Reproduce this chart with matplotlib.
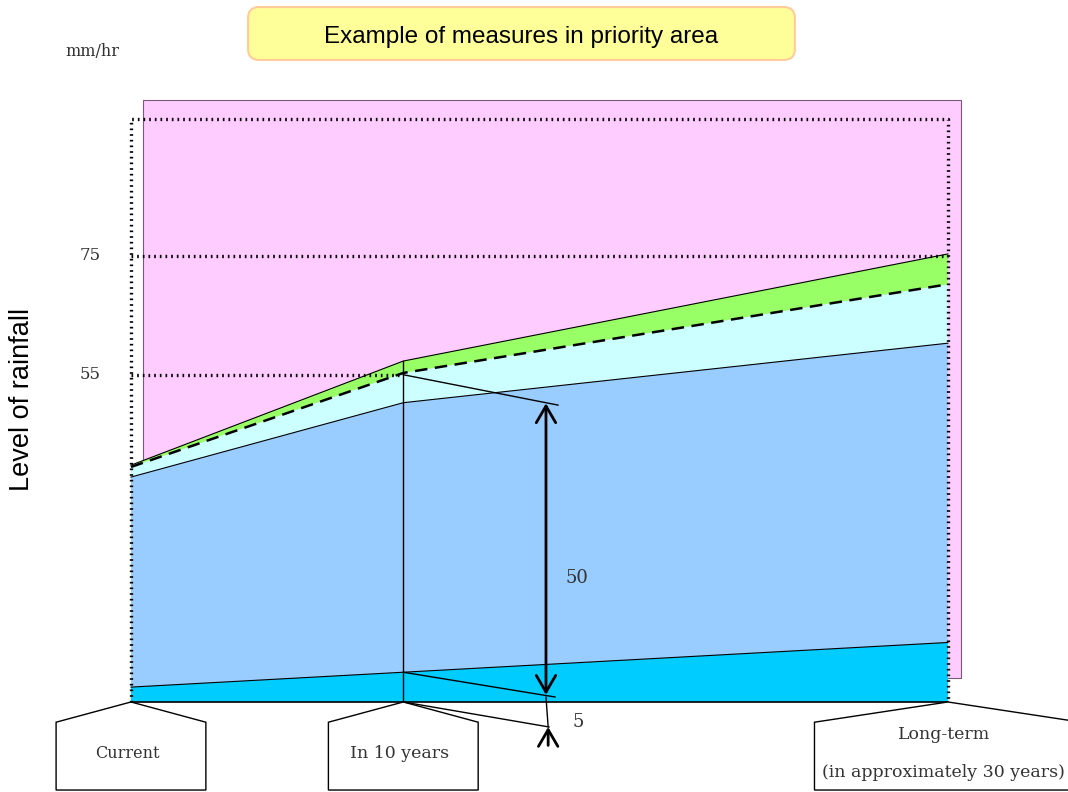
import numpy as np
import matplotlib.pyplot as plt
from matplotlib.patches import Rectangle, Polygon, FancyBboxPatch

# stages (years from now) and layer tops in mm/hr
years = [0, 10, 30]
stage_labels = ['Current', 'In 10 years', 'Long-term\n\n(in approximately 30 years)']
cyan_top = [2.5, 5, 10]
blue_top = [37.8, 50.3, 60.3]
dash_top = [39.5, 55.3, 70.2]
green_top = [39.8, 57.3, 75.3]
ref_levels = [55, 75]
span_big = 50
span_small = 5

serif = 'DejaVu Serif'
sans = 'Liberation Sans'

fig = plt.figure(figsize=(10.68, 7.92), dpi=100)
ax = fig.add_axes([0, 0, 1, 1])
ax.set_xlim(-4.81, 34.41)
ax.set_ylim(-15.13, 117.98)
ax.axis('off')

# pink background area
ax.add_patch(Rectangle((0.44, 4.0), 30.04, 97.2, facecolor='#FFCCFF',
                       edgecolor='#7a5a7a', lw=0.8, zorder=1))

# stacked layers
x = np.array(years, dtype=float)
layers = [(np.zeros(3), cyan_top, '#00CCFF'),
          (cyan_top, blue_top, '#99CCFF'),
          (blue_top, dash_top, '#CCFFFF'),
          (dash_top, green_top, '#99FF66')]
for lo, hi, col in layers:
    ax.fill_between(x, lo, hi, facecolor=col, edgecolor='none', zorder=2)
ax.plot(x, [0, 0, 0], color='black', lw=1.2, zorder=3)
ax.plot(x, cyan_top, color='black', lw=0.8, zorder=3)
ax.plot(x, blue_top, color='black', lw=0.8, zorder=3)
ax.plot(x, green_top, color='black', lw=0.8, zorder=3)
ax.plot(x, dash_top, color='black', lw=1.8, ls=(0, (5, 3)), zorder=3)
ax.plot([years[1], years[1]], [0, green_top[1]], color='black', lw=1, zorder=3)

# dotted frame and reference levels
dot = dict(color='black', lw=2.4, ls=(0, (0.5, 1.2)), zorder=4)
ax.plot([0, 0, 30, 30], [0, 98, 98, 0], **dot)
ax.plot([0, years[1]], [ref_levels[0]] * 2, **dot)
ax.plot([0, 30], [ref_levels[1]] * 2, **dot)
for lv in ref_levels:
    ax.text(-1.5, lv, str(lv), fontsize=12, family=serif, color='#333333',
            ha='center', va='center')
ax.text(-1.4, 109.3, 'mm/hr', fontsize=11.5, family=serif, color='#333333',
        ha='center', va='center')
ax.text(-4.0, 50.9, 'Level of rainfall', fontsize=19.5, family=sans,
        rotation=90, ha='center', va='center')

# leader lines to the span arrows
ax_x = 15.24
ax.plot([years[1], 15.68], [dash_top[1] - 0.3, 49.9], color='black', lw=1, zorder=5)
ax.plot([years[1], 15.57], [cyan_top[1], 0.84], color='black', lw=1, zorder=5)
ax.plot([years[1], 15.35], [0, -4.2], color='black', lw=1, zorder=5)
ax.plot([ax_x, ax_x + 0.08], [0.84, -4.2], color='black', lw=1, zorder=5)
ax.annotate('', xy=(ax_x, 1.2), xytext=(ax_x, 50.2),
            arrowprops=dict(arrowstyle='<->, head_length=0.6, head_width=0.35',
                            lw=2, mutation_scale=20, shrinkA=0, shrinkB=0),
            zorder=6)
ax.annotate('', xy=(ax_x + 0.08, -4.2), xytext=(ax_x + 0.08, -7.3),
            arrowprops=dict(arrowstyle='->, head_length=0.6, head_width=0.35',
                            lw=2, mutation_scale=20, shrinkA=0, shrinkB=0),
            zorder=6)
ax.text(16.38, 20.8, str(span_big), fontsize=13, family=serif, color='#333333',
        ha='center', va='center')
ax.text(16.42, -3.4, str(span_small), fontsize=13, family=serif, color='#333333',
        ha='center', va='center')

# stage label boxes (house shapes)
half_w = [2.75, 2.75, 4.9]
label_sizes = [11.5, 12.5, 12.5]
for yr, lab, hw, fs in zip(years, stage_labels, half_w, label_sizes):
    pts = [(yr, 0), (yr + hw, -3.4), (yr + hw, -14.8),
           (yr - hw, -14.8), (yr - hw, -3.4)]
    ax.add_patch(Polygon(pts, closed=True, facecolor='white',
                         edgecolor='black', lw=1, zorder=3, clip_on=False))
    ax.text(yr - 0.15, -8.6, lab, fontsize=fs, family=serif, color='#333333',
            ha='center', va='center', linespacing=1.15)

# title box
ax.add_patch(FancyBboxPatch((4.30, 107.9), 20.08, 8.9,
                            boxstyle='round,pad=0,rounding_size=0.4',
                            mutation_aspect=4.6,
                            facecolor='#FFFF99', edgecolor='#FFCC99', lw=1.5,
                            zorder=3))
ax.text(14.34, 111.8, 'Example of measures in priority area', fontsize=17.5,
        family=sans, ha='center', va='center', zorder=4)

fig.savefig('out.png', dpi=100)
